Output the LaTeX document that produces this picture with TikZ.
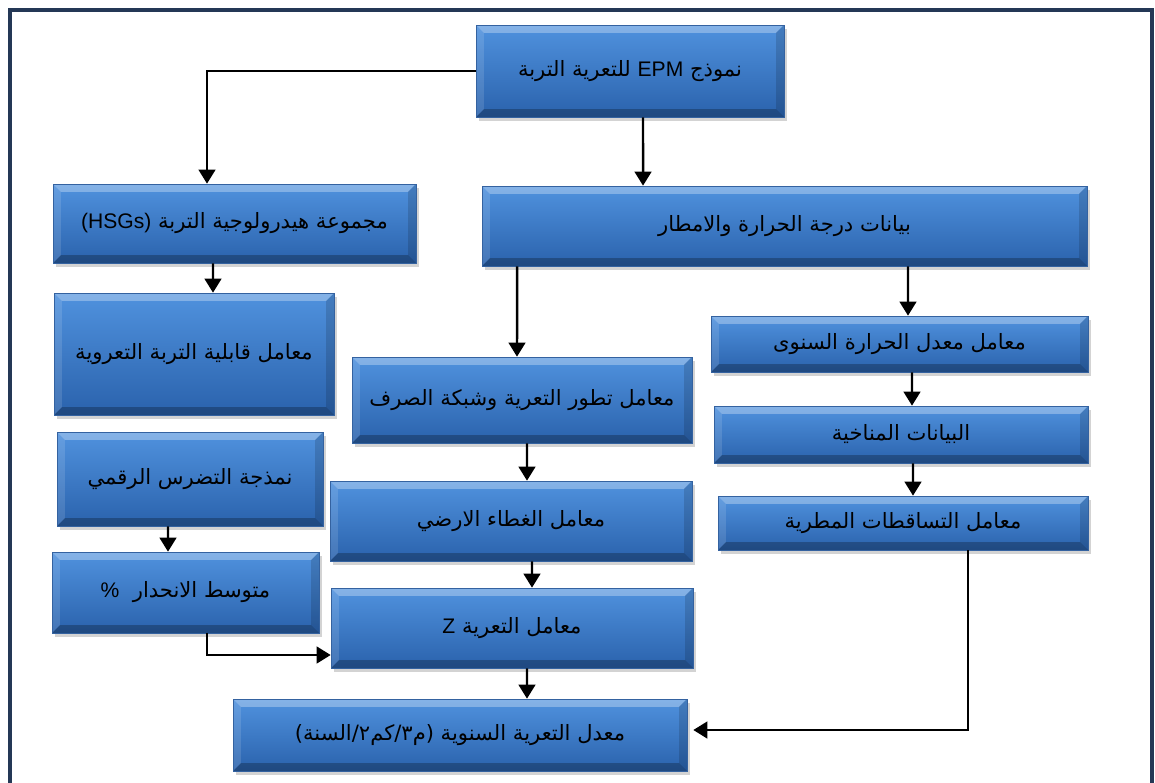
\documentclass[tikz,border=0pt]{standalone}
\usepackage{fontspec}
\usepackage{xcolor}
\definecolor{BoxTop}{RGB}{80,146,222}
\definecolor{BoxBot}{RGB}{42,98,172}
\definecolor{BoxEdge}{RGB}{52,98,160}
\definecolor{FrameCol}{RGB}{36,56,86}
\usepackage{tikz}
\usetikzlibrary{arrows.meta}
\usetikzlibrary{shadows}
\TeXXeTstate=1
\newfontfamily\arabicfont[Script=Arabic]{DejaVu Sans}
\newfontfamily\latinfont{Liberation Sans}
\newcommand{\Bevel}{%
  \coordinate (bvnw) at (path picture bounding box.north west);
  \coordinate (bvne) at (path picture bounding box.north east);
  \coordinate (bvsw) at (path picture bounding box.south west);
  \coordinate (bvse) at (path picture bounding box.south east);
  \fill[white,opacity=.30](bvnw)--(bvne)--([shift={(-4.5pt,-4.5pt)}]bvne)
    --([shift={(4.5pt,-4.5pt)}]bvnw)--cycle;
  \fill[white,opacity=.12](bvnw)--(bvsw)--([shift={(4.5pt,4.5pt)}]bvsw)
    --([shift={(4.5pt,-4.5pt)}]bvnw)--cycle;
  \fill[black,opacity=.14](bvne)--(bvse)--([shift={(-4.5pt,4.5pt)}]bvse)
    --([shift={(-4.5pt,-4.5pt)}]bvne)--cycle;
  \fill[black,opacity=.25](bvsw)--(bvse)--([shift={(-4.5pt,4.5pt)}]bvse)
    --([shift={(4.5pt,4.5pt)}]bvsw)--cycle;}
\newcommand{\AR}[1]{\beginR #1\endR}
\tikzstyle{Box}=[rectangle,draw=BoxEdge,line width=.4pt,top color=BoxTop,
bottom color=BoxBot,drop shadow={shadow xshift=1.5pt,shadow yshift=-2pt,
opacity=.35},path picture={\Bevel},inner sep=0pt,text=black,
font=\arabicfont\fontsize{12}{14}\selectfont]
\tikzstyle{Arrow}=[draw=black,line width=1.4pt,
-{Triangle[length=8pt,width=9.5pt]}]
\tikzstyle{Frame}=[draw=FrameCol,line width=1.8pt]

\begin{document}
\begin{tikzpicture}[x=0.02cm,y=-0.02cm]
        \useasboundingbox (0,0) rectangle (1155,782);
        \draw[Frame](10,800)--(10,10)--(1152,10)--(1152,800);
        \node[Box,minimum width=6.16cm,minimum height=1.84cm](epm)at(630,71)
            {\AR{نموذج \beginL{\latinfont EPM}\endL{} للتعرية التربة}};
        \node[Box,minimum width=7.26cm,minimum height=1.58cm](hsg)
            at(234.5,223.5)
            {\AR{مجموعة هيدرولوجية التربة \beginL{\latinfont (HSGs)}\endL}};
        \node[Box,minimum width=12.10cm,minimum height=1.60cm](climate)
            at(784.5,226){\AR{بيانات درجة الحرارة والامطار}};
        \node[Box,minimum width=5.60cm,minimum height=2.44cm](kfac)
            at(194,354){\AR{معامل قابلية التربة التعروية}};
        \node[Box,minimum width=7.54cm,minimum height=1.12cm](temp)
            at(899.5,344){\AR{معامل معدل الحرارة السنوى}};
        \node[Box,minimum width=6.80cm,minimum height=1.72cm](drain)
            at(522,400){\AR{معامل تطور التعرية وشبكة الصرف}};
        \node[Box,minimum width=7.48cm,minimum height=1.14cm](clim)
            at(901,434.5){\AR{البيانات المناخية}};
        \node[Box,minimum width=5.32cm,minimum height=1.88cm](relief)
            at(190,479){\AR{نمذجة التضرس الرقمي}};
        \node[Box,minimum width=7.40cm,minimum height=1.08cm](rain)
            at(903,523){\AR{معامل التساقطات المطرية}};
        \node[Box,minimum width=7.24cm,minimum height=1.60cm](cover)
            at(511,521){\AR{معامل الغطاء الارضي}};
        \node[Box,minimum width=5.34cm,minimum height=1.62cm](slope)
            at(185.5,592.5){\AR{متوسط الانحدار \ \beginL{\latinfont\%}\endL}};
        \node[Box,minimum width=7.24cm,minimum height=1.60cm](zcoef)
            at(512,628){\AR{معامل التعرية \beginL{\latinfont Z}\endL}};
        \node[Box,minimum width=9.08cm,minimum height=1.44cm](rate)
            at(460,735){\AR{معدل التعرية السنوية (م٣/كم٢/السنة)}};
        \draw[Arrow](epm.west)-|([xshift=-0.55cm]hsg.north);
        \draw[Arrow]([xshift=0.26cm]epm.south)--([xshift=-2.83cm]climate.north);
        \draw[Arrow]([xshift=-0.43cm]hsg.south)--([xshift=0.38cm]kfac.north);
        \draw[Arrow]([xshift=-5.35cm]climate.south)--([xshift=-0.10cm]drain.north);
        \draw[Arrow]([xshift=2.47cm]climate.south)--([xshift=0.17cm]temp.north);
        \draw[Arrow]([xshift=0.25cm]temp.south)--([xshift=0.22cm]clim.north);
        \draw[Arrow]([xshift=0.24cm]clim.south)--([xshift=0.20cm]rain.north);
        \draw[Arrow]([xshift=0.10cm]drain.south)--([xshift=0.32cm]cover.north);
        \draw[Arrow]([xshift=0.42cm]cover.south)--([xshift=0.40cm]zcoef.north);
        \draw[Arrow]([xshift=0.30cm]zcoef.south)--([xshift=1.34cm]rate.north);
        \draw[Arrow]([xshift=-0.44cm]relief.south)--([xshift=-0.35cm]slope.north);
        \draw[Arrow]([xshift=0.43cm]slope.south)|-([yshift=-0.54cm]zcoef.west);
        \draw[Arrow,shorten >=0.12cm]([xshift=1.30cm]rain.south)
            |-([yshift=0.10cm]rate.east);
    \end{tikzpicture}
\end{document}
